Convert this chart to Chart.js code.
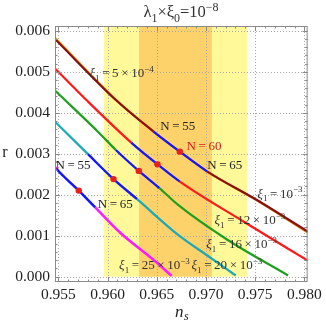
<!DOCTYPE html>
<html><head><meta charset="utf-8">
<script src="https://cdn.jsdelivr.net/npm/chart.js@4.4.0/dist/chart.umd.min.js"></script>
<style>html,body{margin:0;padding:0;background:#fff}</style>
</head><body>
<canvas id="c" width="326" height="324" style="width:326px;height:324px;display:block"></canvas>
<script>
// ---------- data ----------
const xTicks = [0.955, 0.960, 0.965, 0.970, 0.975, 0.980];
const yTicks = [0.000, 0.001, 0.002, 0.003, 0.004, 0.005, 0.006];
const bandOuter = [0.9596, 0.9742];   // light yellow band (n_s range)
const bandInner = [0.9632, 0.9706];   // orange band (n_s range)

// xi1 = 5e-4 (hidden mostly under xi1 = 1e-3)
const ns_5e4  = [0.95465, 0.96084, 0.96467, 0.96734, 0.97010, 0.97517, 0.98035];
const r_5e4   = [0.00583, 0.00432, 0.00354, 0.00305, 0.00257, 0.00186, 0.00107];
// xi1 = 1e-3
const ns_1e3  = [0.95465, 0.96084, 0.96467, 0.96734, 0.97010, 0.97517, 0.98035];
const r_1e3   = [0.00580, 0.00431, 0.00354, 0.00305, 0.00257, 0.00187, 0.00110];
// xi1 = 12e-3
const ns_12e3 = [0.95465, 0.95784, 0.96240, 0.96507, 0.96734, 0.97384, 0.98035];
const r_12e3  = [0.00508, 0.00431, 0.00327, 0.00274, 0.00232, 0.00134, 0.00039];
// xi1 = 16e-3
const ns_16e3 = [0.95465, 0.95917, 0.96084, 0.96317, 0.96527, 0.96717, 0.97217, 0.97834];
const r_16e3  = [0.00454, 0.00350, 0.00309, 0.00258, 0.00216, 0.00175, 0.00090, 0.00003];
// xi1 = 20e-3
const ns_20e3 = [0.95465, 0.95800, 0.96060, 0.96300, 0.96717, 0.97017, 0.97302];
const r_20e3  = [0.00378, 0.00299, 0.00238, 0.00189, 0.00102, 0.00051, 0.00003];
// xi1 = 25e-3
const ns_25e3 = [0.95465, 0.95484, 0.95707, 0.95874, 0.96134, 0.96467, 0.96650];
const r_25e3  = [0.00268, 0.00262, 0.00210, 0.00169, 0.00106, 0.00041, 0.00002];

// index of the points N=55, N=60, N=65 on each curve
const nIdx_1e3  = [2, 3, 4];
const nIdx_12e3 = [2, 3, 4];
const nIdx_16e3 = [2, 3, 4];
const nIdx_20e3 = [1, 2, 3];
const nIdx_25e3 = [1, 2, 3];

// ---------- styles ----------
const BLUE = '#1414ff', DOT = '#e8201c';
const SERIF = '"Liberation Serif", "Times New Roman", serif';

const curves = [
  {ns: ns_1e3,  r: r_1e3,  color: '#8c0f0f', idx: nIdx_1e3,  w: 2.2, order: 1},
  {ns: ns_12e3, r: r_12e3, color: '#ff1a1a', idx: nIdx_12e3, w: 2.2, order: 1},
  {ns: ns_16e3, r: r_16e3, color: '#1ea01e', idx: nIdx_16e3, w: 2.2, order: 1},
  {ns: ns_20e3, r: r_20e3, color: '#1ea9b6', idx: nIdx_20e3, w: 2.3, order: 1},
  {ns: ns_25e3, r: r_25e3, color: '#ff1aff', idx: nIdx_25e3, w: 2.5, order: 1},
  {ns: ns_5e4,  r: r_5e4,  color: '#e8a317', idx: null,      w: 2.2, order: 5},
];

const datasets = curves.map(c => ({
  data: c.ns.map((x, i) => ({x, y: c.r[i]})),
  borderColor: c.color,
  borderWidth: c.w,
  cubicInterpolationMode: 'monotone',
  order: c.order,
  pointRadius: ctx => (c.idx && ctx.dataIndex === c.idx[1]) ? 3.2 : 0,
  pointBackgroundColor: DOT,
  pointBorderWidth: 0,
  segment: {
    borderColor: ctx => (c.idx && ctx.p0DataIndex >= c.idx[0] && ctx.p0DataIndex < c.idx[2]) ? BLUE : undefined
  }
}));

const labels = [
  {p: [['ξ','i'],['1','sub'],['\u2009=\u20095\u2009×\u200910','n'],['−4','sup']], x: 0.95816, y: 0.004976, c: '#333'},
  {p: [['N\u2009=\u200955','n']], x: 0.96536, y: 0.003676, c: '#222'},
  {p: [['N\u2009=\u200960','n']], x: 0.96802, y: 0.003195, c: '#d42020'},
  {p: [['N\u2009=\u200965','n']], x: 0.97013, y: 0.002724, c: '#222'},
  {p: [['N\u2009=\u200955','n']], x: 0.95470, y: 0.002724, c: '#222'},
  {p: [['N\u2009=\u200965','n']], x: 0.95900, y: 0.001773, c: '#222'},
  {p: [['ξ','i'],['1','sub'],['\u2009=\u200910','n'],['−3','sup']], x: 0.97522, y: 0.002034, c: '#333'},
  {p: [['ξ','i'],['1','sub'],['\u2009=\u200912\u2009×\u200910','n'],['−3','sup']], x: 0.97087, y: 0.001383, c: '#333'},
  {p: [['ξ','i'],['1','sub'],['\u2009=\u200916\u2009×\u200910','n'],['−3','sup']], x: 0.97003, y: 0.000798, c: '#333'},
  {p: [['ξ','i'],['1','sub'],['\u2009=\u200920\u2009×\u200910','n'],['−3','sup']], x: 0.96853, y: 0.000285, c: '#333'},
  {p: [['ξ','i'],['1','sub'],['\u2009=\u200925\u2009×\u200910','n'],['−3','sup']], x: 0.96117, y: 0.000285, c: '#333'},
];

function rich(ctx, parts, x, y, size, color, align) {
  ctx.save();
  ctx.fillStyle = color;
  ctx.textBaseline = 'alphabetic';
  ctx.textAlign = 'left';
  const fontFor = p => (p[1] === 'i' ? 'italic ' : '') +
    ((p[1] === 'sub' || p[1] === 'sup') ? Math.round(size * 0.7) : size) + 'px ' + SERIF;
  let w = 0;
  parts.forEach(p => { ctx.font = fontFor(p); w += ctx.measureText(p[0]).width; });
  let cx = align === 'center' ? x - w / 2 : x;
  const base = y + size * 0.33;
  parts.forEach(p => {
    ctx.font = fontFor(p);
    let dy = 0;
    if (p[1] === 'sub') dy = size * 0.3;
    if (p[1] === 'sup') dy = -size * 0.42;
    ctx.fillText(p[0], cx, base + dy);
    cx += ctx.measureText(p[0]).width;
  });
  ctx.restore();
}

const decor = {
  id: 'decor',
  beforeDatasetsDraw(chart) {
    const {ctx, chartArea: a, scales: {x, y}} = chart;
    ctx.save();
    ctx.beginPath(); ctx.rect(a.left, a.top, a.right - a.left, a.bottom - a.top); ctx.clip();
    const y0 = y.getPixelForValue(0);
    ctx.fillStyle = '#fff99a';
    ctx.fillRect(x.getPixelForValue(bandOuter[0]), a.top, x.getPixelForValue(bandOuter[1]) - x.getPixelForValue(bandOuter[0]), y0 - a.top);
    ctx.fillStyle = '#fdd26a';
    ctx.fillRect(x.getPixelForValue(bandInner[0]), a.top, x.getPixelForValue(bandInner[1]) - x.getPixelForValue(bandInner[0]), y0 - a.top);
    // dotted grid
    ctx.strokeStyle = '#a8a8a8';
    ctx.lineWidth = 1;
    ctx.setLineDash([1, 2]);
    xTicks.forEach(v => {
      const px = Math.round(x.getPixelForValue(v)) + 0.5;
      ctx.beginPath(); ctx.moveTo(px, a.top); ctx.lineTo(px, a.bottom); ctx.stroke();
    });
    yTicks.forEach(v => {
      const py = Math.round(y.getPixelForValue(v)) + 0.5;
      ctx.beginPath(); ctx.moveTo(a.left, py); ctx.lineTo(a.right, py); ctx.stroke();
    });
    ctx.restore();
  },
  afterDraw(chart) {
    const {ctx, chartArea: a, scales: {x, y}} = chart;
    ctx.save();
    // frame
    ctx.strokeStyle = '#8a8a8a';
    ctx.lineWidth = 1;
    ctx.strokeRect(a.left + 0.5, a.top + 0.5, a.right - a.left - 1, a.bottom - a.top - 1);
    // ticks
    ctx.beginPath();
    const xt = (v, len) => {
      const px = Math.round(x.getPixelForValue(v)) + 0.5;
      if (px < a.left || px > a.right) return;
      ctx.moveTo(px, a.bottom); ctx.lineTo(px, a.bottom - len);
      ctx.moveTo(px, a.top); ctx.lineTo(px, a.top + len);
    };
    const yt = (v, len) => {
      const py = Math.round(y.getPixelForValue(v)) + 0.5;
      if (py < a.top || py > a.bottom) return;
      ctx.moveTo(a.left, py); ctx.lineTo(a.left + len, py);
      ctx.moveTo(a.right, py); ctx.lineTo(a.right - len, py);
    };
    xTicks.forEach(v => xt(v, 5));
    for (let k = 0; k < xTicks.length - 1; k++)
      for (let j = 1; j < 5; j++) xt(xTicks[k] + (xTicks[k + 1] - xTicks[k]) * j / 5, 2.5);
    yTicks.forEach(v => yt(v, 5));
    for (let k = -1; k < yTicks.length; k++)
      for (let j = 1; j < 5; j++) yt((k + j / 5) * 0.001, 2.5);
    ctx.stroke();
    ctx.restore();

    labels.forEach(l => rich(ctx, l.p, x.getPixelForValue(l.x), y.getPixelForValue(l.y), 13, l.c, 'left'));
    // title
    rich(ctx, [['λ','n'],['1','sub'],['×','n'],['ξ','n'],['0','sub'],['=10','n'],['−8','sup']], 181, 12, 16.5, '#333', 'center');
    // axis titles
    rich(ctx, [['r','n']], 5, 152, 16, '#222', 'center');
    ctx.save();
    ctx.fillStyle = '#222';
    ctx.font = 'italic 17px ' + SERIF;
    ctx.textBaseline = 'alphabetic';
    ctx.fillText('n', 175, 317);
    ctx.font = 'italic 12px ' + SERIF;
    ctx.fillText('s', 184, 320);
    ctx.restore();
  }
};

new Chart(document.getElementById('c'), {
  type: 'line',
  data: {datasets},
  plugins: [decor],
  options: {
    responsive: false,
    animation: false,
    devicePixelRatio: 1,
    layout: {padding: {top: 26, right: 15, left: 0, bottom: 0}},
    plugins: {legend: {display: false}, tooltip: {enabled: false}, title: {display: false}},
    scales: {
      x: {
        type: 'linear', min: 0.954654, max: 0.980331,
        grid: {display: false, drawTicks: false}, border: {display: false},
        afterBuildTicks: s => { s.ticks = xTicks.map(v => ({value: v})); },
        afterFit: s => { s.height = 42; },
        ticks: {padding: 4, color: '#222', font: {family: SERIF, size: 15.5},
                callback: v => v.toFixed(3), maxRotation: 0, autoSkip: false}
      },
      y: {
        type: 'linear', min: -0.00013, max: 0.006115,
        grid: {display: false, drawTicks: false}, border: {display: false},
        afterBuildTicks: s => { s.ticks = yTicks.map(v => ({value: v})); },
        afterFit: s => { s.width = 55; },
        ticks: {padding: 5, color: '#222', font: {family: SERIF, size: 15.5},
                callback: v => v.toFixed(3), autoSkip: false}
      }
    }
  }
});
</script>
</body></html>
